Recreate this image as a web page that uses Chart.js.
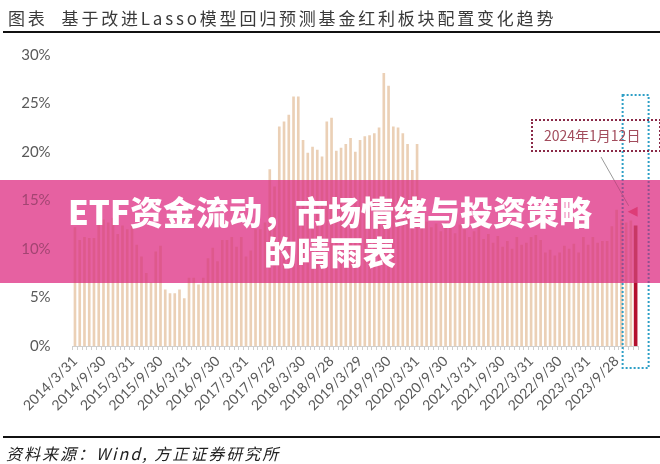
<!DOCTYPE html>
<html>
<head>
<meta charset="utf-8">
<script src="https://cdn.jsdelivr.net/npm/chart.js@4.4.1/dist/chart.umd.min.js"></script>
<style>
  html, body { margin: 0; padding: 0; background: #fff; }
  #wrap { position: relative; width: 660px; height: 464px; overflow: hidden; font-family: "Noto Sans CJK SC", sans-serif; background: #fff; isolation: isolate; }
  #myChart { position: absolute; left: 0; top: 0; }
  .title { position: absolute; left: 8px; top: 5px; font-size: 17px; color: #3a3a3a; letter-spacing: 2.8px; white-space: nowrap; }
  .title span { margin-right: 14px; }
  .rule { position: absolute; left: 3px; right: 0; height: 2px; background: #111; }
  .source { position: absolute; left: 6px; top: 441px; font-size: 16px; font-style: italic; color: #222; letter-spacing: 2px; white-space: nowrap; }
  .band { position: absolute; left: 0; top: 180px; width: 660px; height: 103px; background: rgb(231, 98, 162); mix-blend-mode: multiply; }
  .banner { position: absolute; left: 0; top: 180px; width: 660px; height: 103px; background: rgba(229, 96, 160, 0.55);
            color: #fff; font-weight: 900; font-size: 33px; line-height: 40px; text-align: center; padding-top: 11px; box-sizing: border-box; }
  .note { position: absolute; left: 531px; top: 119px; width: 130px; height: 33px; border: 2px dotted #8a2a48; box-sizing: border-box;
          color: #a24c5c; font-size: 14px; line-height: 29px; padding-left: 11px; white-space: nowrap; }
</style>
</head>
<body>
<div id="wrap">
  <canvas id="myChart" width="660" height="464"></canvas>
  <div class="title"><span>图表</span>基于改进Lasso模型回归预测基金红利板块配置变化趋势</div>
  <div class="rule" style="top:31px"></div>
  <div class="note">2024年1月12日</div>
  <div class="band"></div>
  <div class="banner">ETF资金流动，市场情绪与投资策略<br>的晴雨表</div>
  <div class="rule" style="top:436px"></div>
  <div class="source">资料来源：Wind, 方正证券研究所</div>
</div>
<script>
// monthly allocation to dividend sector, % (2014/3 .. 2023/12)
var allocation = [
  12.2, 10.9, 11.2, 11.1, 11.1, 13.0, 13.0, 12.7, 13.2, 11.5, 12.4, 12.0,
  12.4, 10.4, 9.2, 7.5, 6.5, 9.7, 10.3, 5.8, 5.4, 5.4, 5.8, 4.9,
  7.0, 7.0, 6.3, 7.0, 9.0, 10.1, 8.7, 10.9, 10.9, 11.2, 10.2, 11.2,
  9.2, 9.8, 12.0, 12.0, 12.7, 18.2, 16.4, 22.6, 23.1, 23.8, 25.7, 25.7,
  21.2, 19.9, 20.5, 20.2, 19.5, 23.1, 23.5, 20.1, 20.4, 20.8, 21.4, 20.0,
  21.2, 21.6, 21.7, 21.9, 22.5, 28.1, 26.8, 22.6, 22.5, 21.9, 20.8, 18.1,
  20.8, 13.5, 12.8, 12.2, 12.6, 11.8, 12.7, 12.3, 11.6, 12.5, 12.0, 11.2,
  11.8, 12.4, 11.0, 11.5, 10.6, 11.3, 10.2, 10.8, 10.0, 11.2, 10.4, 10.6,
  11.2, 11.4, 10.9, 9.6, 9.9, 9.3, 9.6, 10.3, 10.0, 10.5, 9.6, 11.2,
  10.4, 11.2, 10.6, 10.8, 10.8, 12.3, 14.0, 13.0, 12.7, 12.9
];
var latestDate = "2024/1/12";
var latestValue = 12.4;

var tickLabels = [
  "2014/3/31", "2014/9/30", "2015/3/31", "2015/9/30", "2016/3/31",
  "2016/9/30", "2017/3/31", "2017/9/29", "2018/3/30", "2018/9/28",
  "2019/3/29", "2019/9/30", "2020/3/31", "2020/9/30", "2021/3/31",
  "2021/9/30", "2022/3/31", "2022/9/30", "2023/3/31", "2023/9/28"
];

var categories = [];
for (var i = 0; i < allocation.length; i++) {
  var m = 3 + i;
  categories.push((2014 + Math.floor((m - 1) / 12)) + "/" + (((m - 1) % 12) + 1));
}
categories.push(latestDate);

var histData = allocation.concat([null]);
var latestData = allocation.map(function () { return null; }).concat([latestValue]);

// dotted highlight box, pointer line and arrow head
var marker = {
  id: "marker",
  afterDraw: function (chart) {
    var c = chart.ctx;
    var xs = chart.scales.x, ys = chart.scales.y;
    var px = xs.getPixelForValue(categories.length - 1);
    c.save();
    c.strokeStyle = "#2e9fc6";
    c.lineWidth = 2;
    c.setLineDash([2, 2]);
    c.strokeRect(px - 13, 95, 26, 273);
    c.setLineDash([]);
    c.strokeStyle = "#9a9a9a";
    c.lineWidth = 1;
    c.beginPath();
    c.moveTo(601, 157);
    c.lineTo(px - 7, ys.getPixelForValue(latestValue) - 20);
    c.stroke();
    var ty = ys.getPixelForValue(latestValue) - 14;
    c.fillStyle = "#e8286e";
    c.beginPath();
    c.moveTo(px - 8, ty);
    c.lineTo(px + 2, ty - 5);
    c.lineTo(px + 2, ty + 5);
    c.closePath();
    c.fill();
    c.restore();
  }
};

const ctx = document.getElementById("myChart").getContext("2d");

const config = {
  type: "bar",
  data: {
    labels: categories,
    datasets: [
      {
        label: "配置比例",
        data: histData,
        backgroundColor: "#EBD0B6",
        barThickness: 2,
        grouped: false,
      },
      {
        label: latestDate,
        data: latestData,
        backgroundColor: "#B3102E",
        barThickness: 3,
        grouped: false,
      },
    ],
  },
  options: {
    responsive: false,
    animation: false,
    layout: { padding: { top: 55, right: 22, left: 0, bottom: 0 } },
    scales: {
      x: {
        grid: { display: true, drawOnChartArea: false, tickLength: 4, color: "#cfcfcf" },
        border: { color: "#cfcfcf" },
        ticks: {
          autoSkip: false,
          maxRotation: 45,
          minRotation: 45,
          color: "#595959",
          font: { family: "Lato", size: 14 },
          callback: function (v, i) {
            return i % 6 === 0 && i / 6 < tickLabels.length ? tickLabels[i / 6] : "";
          },
        },
        afterFit: function (s) { s.height = 118; },
      },
      y: {
        min: 0,
        max: 30,
        grid: { display: false },
        border: { display: false },
        ticks: {
          stepSize: 5,
          padding: 14,
          color: "#595959",
          font: { family: "Lato", size: 15 },
          callback: function (v) { return v + "%"; },
        },
        afterFit: function (s) { s.width = 72.6; },
      },
    },
    plugins: {
      legend: { display: false },
      tooltip: { enabled: false },
    },
  },
  plugins: [marker],
};

const allocationChart = new Chart(ctx, config);
</script>
</body>
</html>
